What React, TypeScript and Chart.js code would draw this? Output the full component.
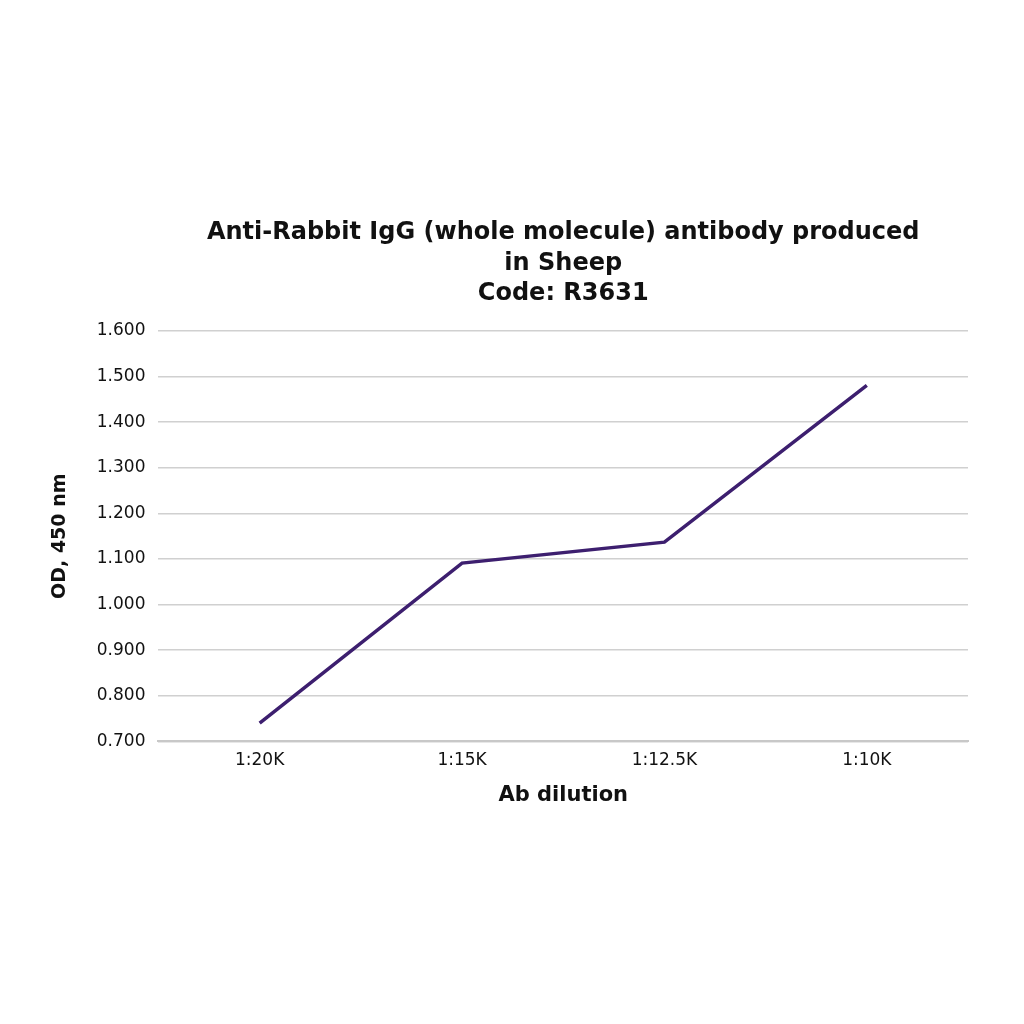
import React, { useEffect, useRef } from "react";
import { Chart, registerables, Plugin } from "chart.js";

Chart.register(...registerables);

const dilutions = ["1:20K", "1:15K", "1:12.5K", "1:10K"];
const odValues = [0.74, 1.091, 1.137, 1.481];
const titleLines = [
  "Anti-Rabbit IgG (whole molecule) antibody produced",
  "in Sheep",
  "Code: R3631",
];

const FONT = "Verdana, 'DejaVu Sans', sans-serif";

// title centred over the plot area, not the whole canvas
const plotTitle: Plugin<"line"> = {
  id: "plotTitle",
  afterDraw(chart) {
    const { ctx, chartArea } = chart;
    const cx = (chartArea.left + chartArea.right) / 2;
    ctx.save();
    ctx.fillStyle = "#111";
    ctx.font = `bold 24px ${FONT}`;
    ctx.textAlign = "center";
    ctx.textBaseline = "middle";
    titleLines.forEach((line, i) => ctx.fillText(line, cx, 233 + i * 30.5));
    ctx.restore();
  },
};

export default function App() {
  const canvasRef = useRef<HTMLCanvasElement | null>(null);
  const chartRef = useRef<Chart | null>(null);

  useEffect(() => {
    if (!canvasRef.current) return;
    const ctx = canvasRef.current.getContext("2d");
    if (!ctx) return;
    if (chartRef.current) chartRef.current.destroy();

    chartRef.current = new Chart(ctx, {
      type: "line",
      data: {
        labels: dilutions,
        datasets: [
          {
            label: "OD",
            data: odValues,
            borderColor: "#3d1f6f",
            borderWidth: 3.5,
            pointRadius: 0,
            tension: 0,
            fill: false,
          },
        ],
      },
      options: {
        responsive: false,
        animation: false,
        layout: { padding: { top: 331, left: 45, right: 56, bottom: 212 } },
        plugins: {
          legend: { display: false },
          tooltip: { enabled: false },
          title: { display: false },
        },
        scales: {
          x: {
            offset: true,
            grid: { display: false, drawTicks: false },
            border: { display: true, color: "#c8c8c8", width: 2 },
            ticks: { color: "#111", font: { family: FONT, size: 17 }, padding: 9 },
            title: {
              display: true,
              text: "Ab dilution",
              color: "#111",
              font: { family: FONT, size: 21, weight: "bold" },
              padding: { top: 3 },
            },
          },
          y: {
            min: 0.7,
            max: 1.6,
            grid: { color: "#d0d0d0", lineWidth: 1.5, drawTicks: false },
            border: { display: false },
            ticks: {
              stepSize: 0.1,
              color: "#111",
              font: { family: FONT, size: 17 },
              padding: 13,
              callback: (v) => Number(v).toFixed(3),
            },
            title: {
              display: true,
              text: "OD, 450 nm",
              color: "#111",
              font: { family: FONT, size: 19, weight: "bold" },
              padding: { bottom: 12 },
            },
          },
        },
      },
      plugins: [plotTitle],
    });

    return () => {
      if (chartRef.current) chartRef.current.destroy();
    };
  }, []);

  return (
    <div style={{ position: "fixed", left: 0, top: 0, width: 1024, height: 1024, background: "#fff" }}>
      <canvas ref={canvasRef} width={1024} height={1024} style={{ width: 1024, height: 1024 }} />
    </div>
  );
}
